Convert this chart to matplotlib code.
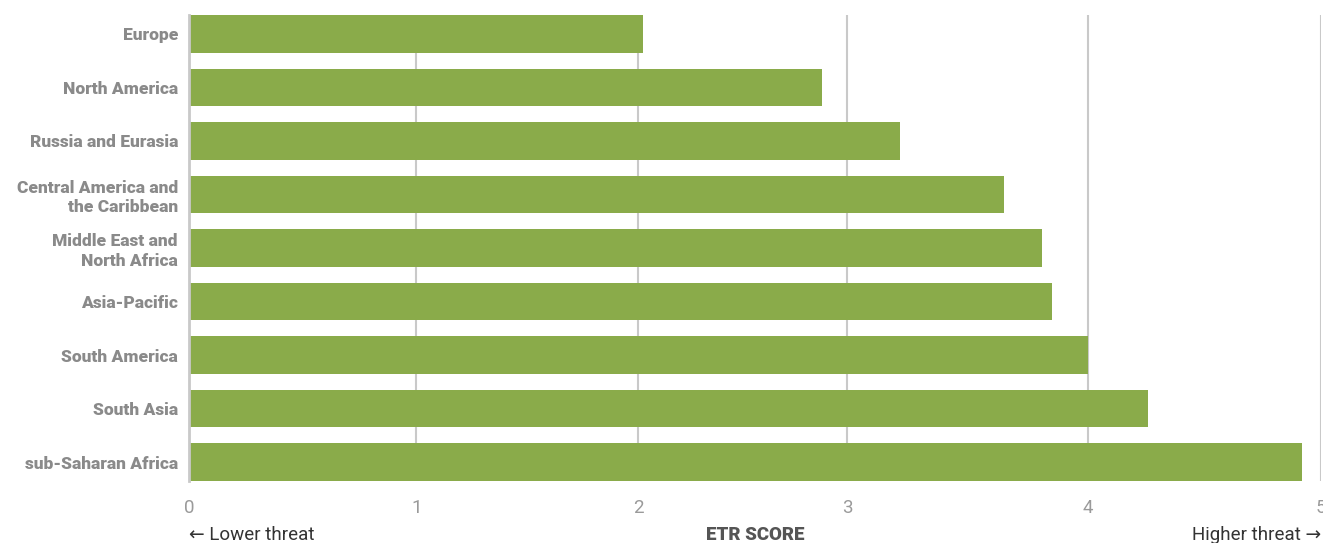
import numpy as np
import matplotlib.pyplot as plt

# 数据
regions = [
    "Europe",
    "North America",
    "Russia and Eurasia",
    "Central America and\nthe Caribbean",
    "Middle East and\nNorth Africa",
    "Asia-Pacific",
    "South America",
    "South Asia",
    "sub-Saharan Africa",
]
etr_scores = [2.02, 2.88, 3.22, 3.65, 3.81, 3.85, 4.00, 4.26, 4.92]
tick_values = [0, 1, 2, 3, 4, 5]
tick_labels = ["0", "1", "2", "3", "4", "5"]

# the source chart's grid is not evenly spaced; map each unit onto its drawn width
GRID_POS = [0, 1.0035, 1.985, 2.9085, 3.97, 5.0]

BAR_COLOR = "#8aab4a"
GRID_COLOR = "#c9c9c9"
LABEL_COLOR = "#8a8a8a"
TICK_COLOR = "#9a9a9a"


def forward(x):
    return np.interp(x, tick_values, GRID_POS)


def inverse(x):
    return np.interp(x, GRID_POS, tick_values)


def main():
    plt.rcParams["font.family"] = ["Roboto", "DejaVu Sans"]

    fig = plt.figure(figsize=(13.23, 5.43), dpi=100)
    ax = fig.add_axes([189 / 1323, 1 - 481 / 543, (1321 - 189) / 1323, 466 / 543])

    ax.set_xscale("function", functions=(forward, inverse))
    ax.set_xlim(0, 5)

    y = np.arange(len(regions))
    ax.barh(y, etr_scores, height=0.71, color=BAR_COLOR, zorder=2)
    ax.set_ylim(len(regions) - 1 + 0.355, -0.355)

    ax.set_xticks(tick_values)
    ax.set_xticklabels(tick_labels)
    ax.xaxis.grid(True, color=GRID_COLOR, linewidth=1.5, zorder=0)
    ax.tick_params(axis="x", length=0, pad=13, labelsize=13.5, labelcolor=TICK_COLOR)

    ax.set_yticks(y)
    ax.set_yticklabels(regions, fontsize=12.5, fontweight="heavy",
                       color=LABEL_COLOR, linespacing=1.25)
    ax.tick_params(axis="y", length=0, pad=8)

    for side in ["top", "right", "bottom"]:
        ax.spines[side].set_visible(False)
    ax.spines["left"].set_color(GRID_COLOR)
    ax.spines["left"].set_linewidth(2)

    fig.text(189 / 1323, 1 - 535 / 543, "\u2190 Lower threat", ha="left", va="center",
             fontsize=13.5, color="#333333", family=["Roboto", "DejaVu Sans"])
    fig.text(1321 / 1323, 1 - 535 / 543, "Higher threat \u2192", ha="right", va="center",
             fontsize=13.5, color="#333333", family=["Roboto", "DejaVu Sans"])
    fig.text(755 / 1323, 1 - 535 / 543, "ETR SCORE", ha="center", va="center",
             fontsize=13.5, fontweight="heavy", color="#555555")

    fig.savefig("out.png", dpi=100)
    plt.close(fig)


if __name__ == "__main__":
    main()
